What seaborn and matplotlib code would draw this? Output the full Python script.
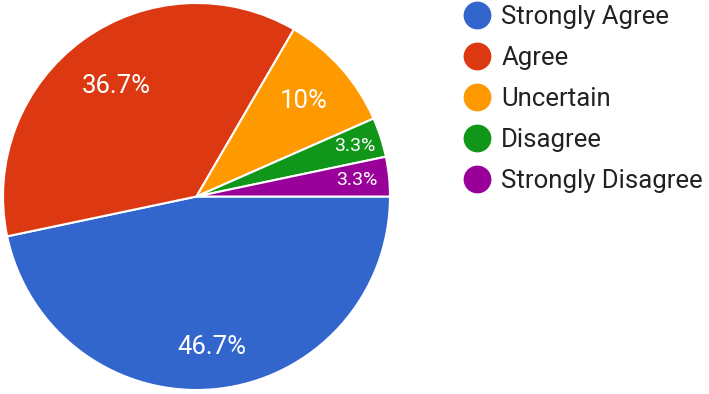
import matplotlib
matplotlib.use("Agg")
import matplotlib.pyplot as plt
from matplotlib.lines import Line2D
import numpy as np
import seaborn as sns

categories = ['Strongly Agree', 'Agree', 'Uncertain', 'Disagree', 'Strongly Disagree']
shares = [46.7, 36.7, 10.0, 3.3, 3.3]
share_labels = ['46.7%', '36.7%', '10%', '3.3%', '3.3%']

sns.set_theme(style="white")
plt.rcParams['font.family'] = ['Roboto', 'DejaVu Sans']

colors = ['#3366cc', '#dc3912', '#ff9900', '#109618', '#990099']

fig = plt.figure(figsize=(7.09, 3.94), dpi=100)
ax = fig.add_axes([3 / 709, 4 / 394, 387 / 709, 387 / 394])

wedges, _ = ax.pie(shares, colors=colors, startangle=0, counterclock=False,
                   wedgeprops=dict(edgecolor='white', linewidth=1.5))
ax.set_xlim(-1, 1)
ax.set_ylim(-1, 1)
ax.set_aspect('equal')

# label positions as fraction of radius, sizes per slice
dists = [0.78, 0.705, 0.74, 0.86, 0.835]
sizes = [18.5, 18.5, 18.5, 14, 14]
for w, lab, d, s in zip(wedges, share_labels, dists, sizes):
    ang = np.deg2rad((w.theta1 + w.theta2) / 2)
    ax.text(d * np.cos(ang), d * np.sin(ang), lab, ha='center', va='center',
            color='white', fontsize=s)

handles = [Line2D([0], [0], marker='o', linestyle='', markersize=19,
                  markerfacecolor=c, markeredgecolor=c) for c in colors]
fig.legend(handles, categories, loc='upper left', bbox_to_anchor=(437 / 709, 1 + 18 / 394),
           frameon=False, fontsize=18.5, labelspacing=0.66, handletextpad=0.3,
           handlelength=1.3, labelcolor='#222222')

fig.savefig('out.png', dpi=100)
